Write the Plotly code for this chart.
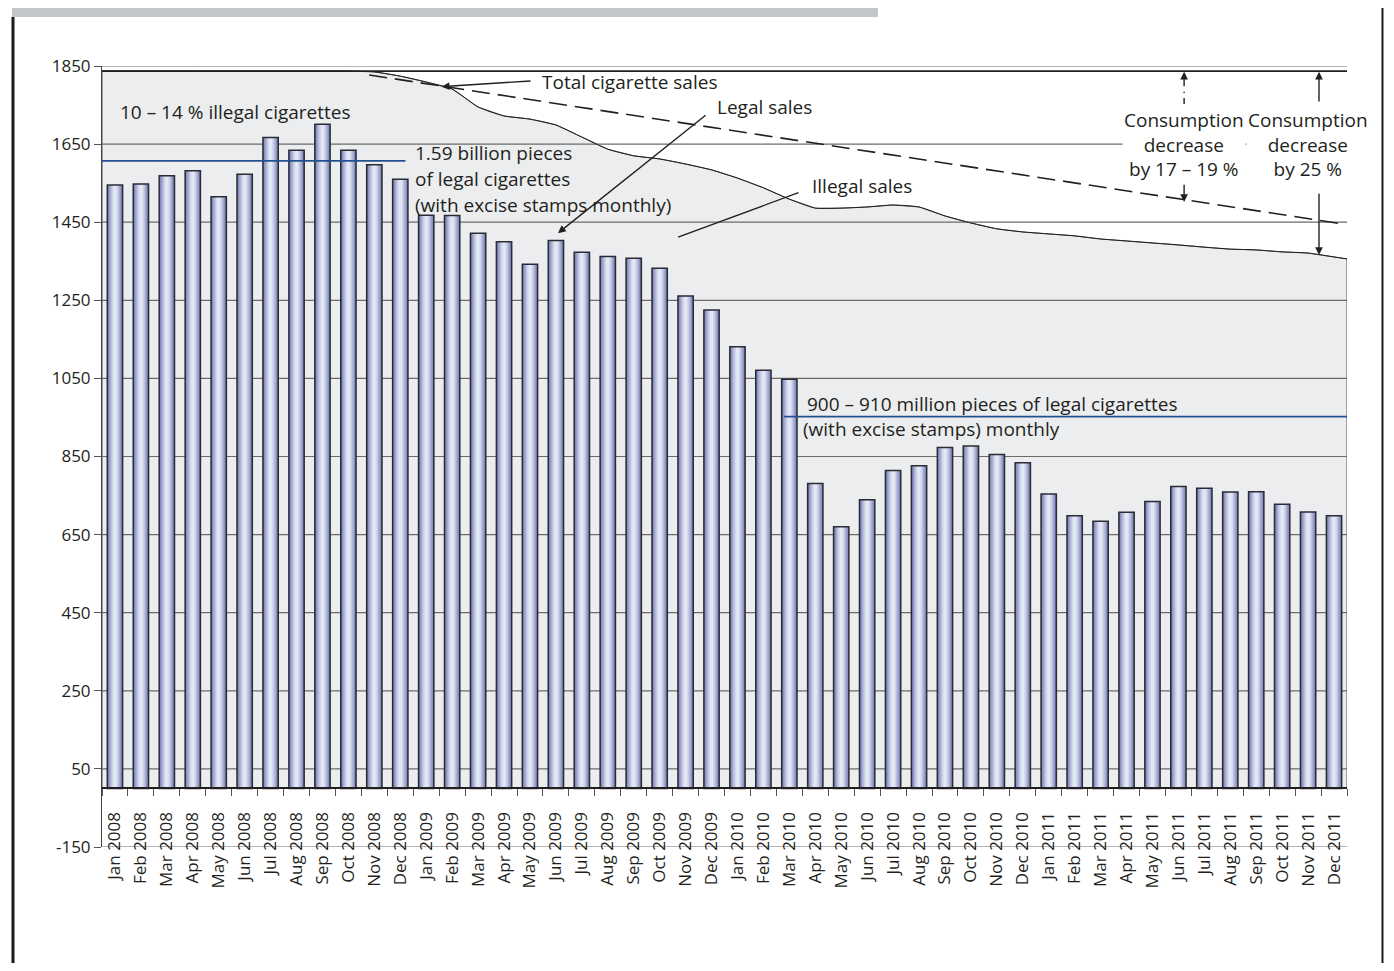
import plotly.graph_objects as go

# ---- data -----------------------------------------------------------------
MONTHS = ["Jan", "Feb", "Mar", "Apr", "May", "Jun",
          "Jul", "Aug", "Sep", "Oct", "Nov", "Dec"]
YEARS = [2008, 2009, 2010, 2011]
month_labels = [f"{m} {y}" for y in YEARS for m in MONTHS]

# legal sales (million pieces with excise stamps), one bar per month
legal_sales = [
    1545, 1548, 1569, 1582, 1515, 1573, 1667, 1634, 1701, 1634, 1597, 1560,
    1468, 1467, 1422, 1400, 1342, 1403, 1373, 1362, 1358, 1332, 1261, 1225,
    1131, 1071, 1048, 781, 670, 739, 814, 826, 873, 877, 855, 834,
    754, 698, 684, 707, 735, 773, 769, 759, 760, 728, 708, 698,
]

# total cigarette sales (legal + illegal), read at each month
total_sales = [
    1837, 1837, 1837, 1837, 1837, 1837, 1837, 1837, 1837, 1837, 1835, 1824,
    1809, 1791, 1745, 1722, 1714, 1699, 1668, 1637, 1620, 1612, 1599, 1584,
    1563, 1538, 1509, 1486, 1486, 1489, 1494, 1489, 1466, 1448, 1433, 1425,
    1420, 1415, 1407, 1402, 1397, 1392, 1386, 1381, 1379, 1374, 1371, 1361,
]
total_edges = [1837, 1356]          # curve value at the left / right plot edge

# expected total trend (dashed)
trend_x = [9.8, 47.2]
trend_y = [1827, 1447]

# average legal volume levels (blue lines)
legal_2008_level = 1607
legal_2008_span = [-0.5, 11.2]
legal_2010_level = 952
legal_2010_span = [25.8, 47.5]

y_ticks = [-150, 50, 250, 450, 650, 850, 1050, 1250, 1450, 1650, 1850]

# ---- style ----------------------------------------------------------------
INK = "#231f20"
FONT = "Open Sans"
FILL = "#ecedef"
GRID = "#6b6b6b"
BLUE = "#24508f"
X_RANGE = [-0.5, 47.5]
Y_RANGE = [-150, 1850]

idx = list(range(len(month_labels)))

fig = go.Figure()

# base subplot: illegal-sales area + gridlines (drawn under the bars)
fig.add_trace(go.Scatter(
    x=[X_RANGE[0], X_RANGE[0]] + idx + [X_RANGE[1], X_RANGE[1]],
    y=[0, total_edges[0]] + total_sales + [total_edges[1], 0],
    fill="toself", fillcolor=FILL, mode="lines",
    line=dict(color="#555555", width=1),
    hoverinfo="skip", xaxis="x", yaxis="y",
))
gx, gy = [], []
for v in y_ticks:
    gx += [X_RANGE[0], X_RANGE[1], None]
    gy += [v, v, None]
fig.add_trace(go.Scatter(
    x=gx, y=gy, mode="lines", line=dict(color=GRID, width=1.2),
    hoverinfo="skip", xaxis="x", yaxis="y",
))

# overlay subplot: cylinder-like bars (stacked narrower, lighter layers)
bar_layers = [
    (0.59, "#747daa"), (0.51, "#8a93be"), (0.42, "#a2aad0"),
    (0.32, "#bcc2e0"), (0.22, "#d3d8ed"), (0.11, "#e4e7f4"),
]
for w, c in bar_layers:
    fig.add_trace(go.Bar(
        x=idx, y=legal_sales, width=w, marker=dict(color=c, line=dict(width=0)),
        hoverinfo="skip", xaxis="x2", yaxis="y2",
    ))
fig.add_trace(go.Bar(
    x=idx, y=legal_sales, width=0.59,
    marker=dict(color="rgba(0,0,0,0)", line=dict(color="#2b2b35", width=1.5)),
    hovertemplate="%{customdata}: %{y}<extra></extra>", customdata=month_labels,
    xaxis="x2", yaxis="y2",
))

# total sales curve, start level and trend
fig.add_trace(go.Scatter(
    x=[X_RANGE[0]] + idx + [X_RANGE[1]],
    y=[total_edges[0]] + total_sales + [total_edges[1]],
    mode="lines", line=dict(color=INK, width=1, shape="spline", smoothing=0.6),
    hoverinfo="skip", xaxis="x2", yaxis="y2",
))
fig.add_trace(go.Scatter(
    x=X_RANGE, y=[total_sales[0], total_sales[0]], mode="lines",
    line=dict(color=INK, width=1.8), hoverinfo="skip", xaxis="x2", yaxis="y2",
))
fig.add_trace(go.Scatter(
    x=trend_x, y=trend_y, mode="lines",
    line=dict(color=INK, width=1.6, dash="18px,8px"),
    hoverinfo="skip", xaxis="x2", yaxis="y2",
))
fig.add_trace(go.Scatter(
    x=legal_2008_span, y=[legal_2008_level] * 2, mode="lines",
    line=dict(color=BLUE, width=1.8), hoverinfo="skip", xaxis="x2", yaxis="y2",
))
fig.add_trace(go.Scatter(
    x=legal_2010_span, y=[legal_2010_level] * 2, mode="lines",
    line=dict(color=BLUE, width=1.8), hoverinfo="skip", xaxis="x2", yaxis="y2",
))


def label(x, y, text, anchor="left", bg=None):
    d = dict(x=x, y=y, xref="x2", yref="y2", text=text, showarrow=False,
             xanchor=anchor, yanchor="middle", align="center",
             font=dict(family=FONT, size=19, color=INK))
    if bg:
        d["bgcolor"] = bg
    return d


def arrow(x, y, ax, ay, head=2):
    return dict(x=x, y=y, ax=ax, ay=ay, xref="x2", yref="y2",
                axref="x2", ayref="y2", text="", showarrow=True,
                arrowhead=head, arrowsize=1.1, arrowwidth=1.4, arrowcolor=INK)


annotations = [
    label(16.4, 1809, "Total cigarette sales"),
    arrow(12.6, 1797, 16.08, 1812),
    label(23.15, 1745, "Legal sales"),
    arrow(17.08, 1422, 22.83, 1727),
    label(26.8, 1543, "Illegal sales"),
    arrow(21.71, 1412, 26.41, 1527, head=0),
    label(0.1, 1732, "10 – 14 % illegal cigarettes"),
    label(11.5, 1627, "1.59 billion pieces"),
    label(11.5, 1561, "of legal cigarettes"),
    label(11.5, 1494, "(with excise stamps monthly)"),
    label(26.6, 984, "900 – 910 million pieces of legal cigarettes"),
    label(26.45, 920, "(with excise stamps) monthly"),
    label(41.22, 1650, "Consumption<br>decrease<br>by 17 – 19 %",
          anchor="center", bg="white"),
    label(45.99, 1650, "Consumption<br>decrease<br>by 25 %",
          anchor="center", bg="white"),
    arrow(41.22, 1835, 41.22, 1794),
    arrow(41.22, 1502, 41.22, 1550),
    arrow(46.42, 1835, 46.42, 1755),
    arrow(46.42, 1366, 46.42, 1527),
]

shapes = [
    # dashed stem of the left "consumption" up-arrow
    dict(type="line", xref="x2", yref="y2", x0=41.22, x1=41.22,
         y0=1753, y1=1784, line=dict(color=INK, width=1.4, dash="6px,5px")),
    # page frame
    dict(type="rect", xref="paper", yref="paper", x0=-0.0723, x1=0.6233,
         y0=1.0627, y1=1.10, fillcolor="#c3c6c9", line=dict(width=0)),
    dict(type="rect", xref="paper", yref="paper", x0=-0.10, x1=0.6096,
         y0=1.0770, y1=1.12, fillcolor="rgba(0,0,0,0)",
         line=dict(color="#1a1a1a", width=3)),
    dict(type="line", xref="paper", yref="paper", x0=-0.0715, x1=-0.0715,
         y0=-0.17, y1=1.0627, line=dict(color="#1a1a1a", width=3)),
    # right frame edge, kept inside the visible part of the window
    dict(type="line", xref="paper", yref="paper", x0=1.0285, x1=1.0285,
         y0=-0.17, y1=1.10, line=dict(color="#1a1a1a", width=2)),
]

boundaries = [i - 0.5 for i in range(len(month_labels) + 1)]

# the page body adds 8 px margins, so the figure is trimmed to fit the window
fig.update_layout(
    width=1386, height=955,
    margin=dict(l=94, r=47, t=58, b=116),
    paper_bgcolor="white", plot_bgcolor="white",
    showlegend=False, barmode="overlay",
    font=dict(family=FONT, size=17, color=INK),
    xaxis=dict(
        range=X_RANGE, tickmode="array", tickvals=idx, ticktext=month_labels,
        tickangle=-90, ticks="", ticklabelstandoff=16,
        minor=dict(tickmode="array", tickvals=boundaries, ticks="outside",
                   ticklen=7, tickcolor="#555555", tickwidth=1.2),
        showgrid=False, zeroline=False,
        showline=True, linecolor=INK, linewidth=1.5,
        anchor="free", position=(0 - Y_RANGE[0]) / (Y_RANGE[1] - Y_RANGE[0]),
        tickfont=dict(family=FONT, size=17, color=INK),
    ),
    yaxis=dict(
        range=Y_RANGE, tickmode="array", tickvals=y_ticks,
        ticktext=[str(v) for v in y_ticks],
        ticks="outside", ticklen=7, tickcolor="#555555", tickwidth=1.2,
        showgrid=False, zeroline=False,
        showline=True, linecolor="#444444", linewidth=1,
        tickfont=dict(family=FONT, size=17, color=INK),
    ),
    xaxis2=dict(range=X_RANGE, overlaying="x", anchor="y2", visible=False),
    yaxis2=dict(range=Y_RANGE, overlaying="y", anchor="x2", visible=False),
    annotations=annotations,
    shapes=shapes,
)

fig.write_html("out.html")
